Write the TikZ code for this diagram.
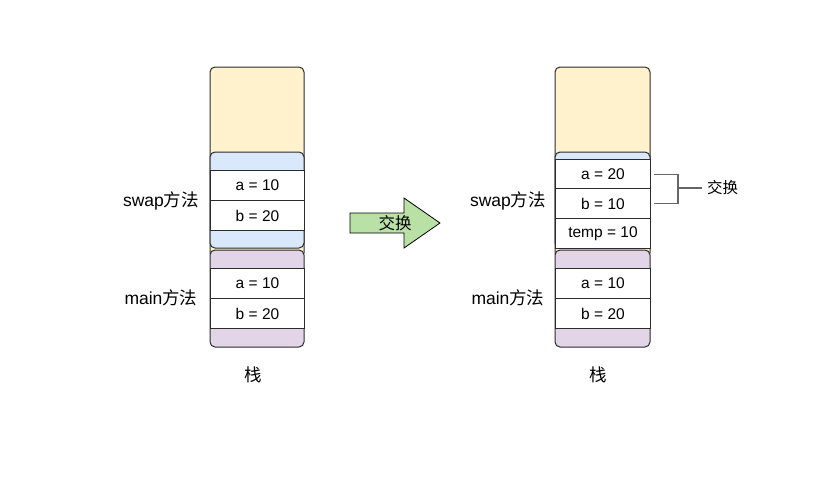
\documentclass[tikz,border=0pt]{standalone}
\usepackage{fontspec}
\setmainfont{Liberation Sans}
\newfontfamily\cjk{Noto Sans CJK SC}
\definecolor{cyellow}{HTML}{FFF2CC}
\definecolor{cblue}{HTML}{DAE8FC}
\definecolor{cpurple}{HTML}{E1D5E7}
\definecolor{cgreen}{HTML}{B9E0A5}
\definecolor{cstroke}{HTML}{2B2B2B}
\definecolor{cgray}{HTML}{666666}
\begin{document}
\begin{tikzpicture}[x=1pt,y=-1pt,
  frame/.style={draw=cstroke,line width=1pt,rounded corners=5pt},
  cell/.style={draw=cstroke,line width=1pt,fill=white,minimum width=94pt,minimum height=30pt,inner sep=0pt,anchor=north west,font=\fontsize{15.5}{18}\selectfont},
  lbl/.style={font=\fontsize{17.5}{20}\selectfont,inner sep=0pt},
  brk/.style={draw=cgray,line width=1.6pt}]
\useasboundingbox (0,0) rectangle (823,482);
% ---------- left stack ----------
\path[fill=cyellow,frame] (210,67) rectangle (304,258);
\path[fill=cblue,frame] (210,152) rectangle (304,248);
\node[cell] (la) at (210,170) {a = 10};
\node[cell] (lb) at (210,200) {b = 20};
\path[fill=cpurple,frame] (210,250) rectangle (304,347);
\node[cell] (lma) at (210,268) {a = 10};
\node[cell] (lmb) at (210,298) {b = 20};
\node[lbl] (lswap) at (161,201) {swap{\cjk 方法}};
\node[lbl] (lmain) at (161,298) {main{\cjk 方法}};
\node[lbl] (lzhan) at (253,375) {\cjk 栈};
% ---------- arrow ----------
\draw[fill=cgreen,draw=black,line width=0.8pt] (350,213) -- (404,213) -- (404,198) -- (440,223) -- (404,248) -- (404,233) -- (350,233) -- cycle;
\node[font=\fontsize{16.5}{18}\selectfont\cjk,inner sep=0pt] (arrtxt) at (395,223) {交换};
% ---------- right stack ----------
\path[fill=cyellow,frame] (555,67) rectangle (650,258);
\path[fill=cblue,frame] (555,152) rectangle (650,248);
\node[cell,minimum width=95pt] (ra) at (555,159) {a = 20};
\node[cell,minimum width=95pt] (rb) at (555,188) {b = 10};
\node[cell,minimum width=95pt] (rt) at (555,218) {temp = 10};
\path[fill=cpurple,frame] (555,250) rectangle (650,347);
\node[cell,minimum width=95pt] (rma) at (555,268) {a = 10};
\node[cell,minimum width=95pt] (rmb) at (555,298) {b = 20};
\node[lbl] (rswap) at (508,201) {swap{\cjk 方法}};
\node[lbl] (rmain) at (508,298) {main{\cjk 方法}};
\node[lbl] (rzhan) at (598,375) {\cjk 栈};
% ---------- bracket ----------
\node[font=\fontsize{15.5}{18}\selectfont\cjk,inner sep=0pt,anchor=west] (swaptxt) at (707,188) {交换};
\coordinate (bmid) at (678,188);
\draw[brk] ([xshift=3pt]ra.east) -| (bmid);
\draw[brk] ([xshift=3pt]rb.east) -| (bmid);
\draw[brk] (bmid) -- ([xshift=-5pt]swaptxt.west);
\end{tikzpicture}
\end{document}
